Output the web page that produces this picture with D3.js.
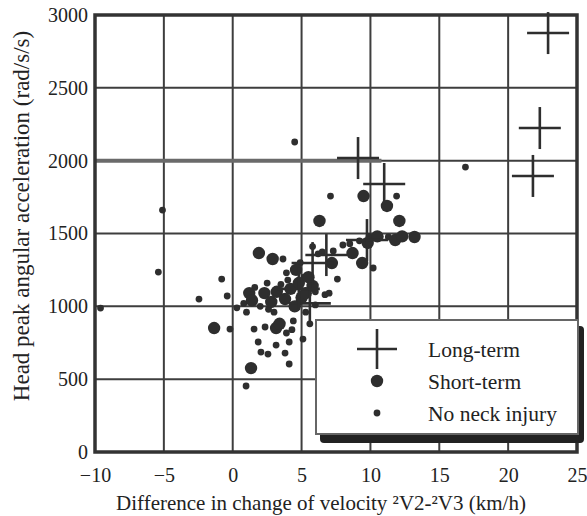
<!DOCTYPE html>
<html>
<head>
<meta charset="utf-8">
<script src="https://cdn.jsdelivr.net/npm/d3@7"></script>
<style>
  html, body { margin: 0; padding: 0; background: #fff; }
  svg { display: block; }
  text { font-family: "Liberation Serif", "Times New Roman", serif; fill: #222; }
</style>
</head>
<body>
<svg id="chart" width="587" height="516"></svg>
<script>
// Tick values
const xTicks = [-10, -5, 0, 5, 10, 15, 20, 25];
const yTicks = [0, 500, 1000, 1500, 2000, 2500, 3000];

// Long-term neck injury cases: [velocity difference, angular acceleration]
const longTerm = [
  [22.9, 2876], [22.3, 2224], [21.8, 1895], [11.0, 1840], [9.1, 2018],
  [9.75, 1455], [6.8, 1352], [5.8, 1297], [5.6, 1020], [4.8, 1120]
];

// Short-term neck injury cases
const shortTerm = [
  [6.3, 1586], [9.5, 1757], [11.2, 1689], [12.1, 1586], [13.2, 1476],
  [9.8, 1435], [11.8, 1455], [8.7, 1366], [9.4, 1297], [7.2, 1297],
  [1.9, 1366], [2.9, 1325], [-1.35, 851], [1.2, 1091], [2.3, 1091],
  [3.2, 1100], [2.8, 1030], [1.4, 1040], [4.2, 1120], [4.8, 1160],
  [5.5, 1200], [3.8, 1050], [4.5, 1000], [5.0, 1060], [3.15, 851],
  [1.33, 576], [4.6, 1250], [5.3, 1090], [10.5, 1480], [12.3, 1480],
  [3.4, 880], [5.8, 1140]
];

// Cases with no neck injury
const noInjury = [
  [4.5, 2128], [7.1, 1757], [-5.1, 1661], [16.9, 1956], [11.9, 1757],
  [8.0, 1421], [10.2, 1263], [10.7, 1476], [11.3, 1476], [9.2, 1450],
  [6.5, 1373], [7.3, 1380], [7.6, 1187], [3.65, 1325], [-5.4, 1235],
  [-0.8, 1187], [-2.45, 1050], [-9.6, 988], [-0.4, 1071], [-0.2, 844],
  [0.3, 990], [1.0, 960], [1.55, 844], [2.35, 858], [3.9, 817],
  [1.85, 755], [3.15, 734], [4.1, 755], [2.05, 686], [2.56, 672],
  [3.8, 679], [4.1, 604], [0.97, 453], [5.1, 775], [5.8, 1410],
  [6.2, 1360], [4.9, 1300], [5.2, 1200], [6.0, 1100], [6.7, 1080],
  [7.0, 1090], [4.0, 1180], [3.5, 1150], [2.0, 1000], [2.6, 980],
  [0.8, 1020], [4.4, 900], [5.3, 960], [4.8, 1030], [3.0, 960],
  [6.0, 1010], [1.6, 1130], [2.5, 1160], [5.6, 880], [4.3, 840],
  [3.9, 1230], [8.5, 1430], [9.9, 1480]
];

const legendItems = ["Long-term", "Short-term", "No neck injury"];

const svg = d3.select("#chart");
const plot = { left: 95, right: 577, top: 15, bottom: 452 };

const x = d3.scaleLinear().domain([-10, 25]).range([plot.left, plot.right]);
const y = d3.scaleLinear().domain([0, 3000]).range([plot.bottom, plot.top]);

const ink = "#2e2e2e";
const gridColor = "#3e3e3e";

// Grid lines
const grid = svg.append("g");
grid.selectAll("line.vx").data(xTicks.slice(1, -1)).join("line")
  .attr("x1", d => x(d)).attr("x2", d => x(d))
  .attr("y1", plot.top).attr("y2", plot.bottom)
  .attr("stroke", gridColor).attr("stroke-width", 2);
grid.selectAll("line.hy").data(yTicks.slice(1, -1)).join("line")
  .attr("x1", plot.left).attr("x2", plot.right)
  .attr("y1", d => y(d)).attr("y2", d => y(d))
  .attr("stroke", gridColor).attr("stroke-width", 2);
// heavier segment on the 2000 line
grid.append("line")
  .attr("x1", plot.left).attr("x2", x(10.8))
  .attr("y1", y(2000)).attr("y2", y(2000))
  .attr("stroke", "#6a6a6a").attr("stroke-width", 4);

// Frame
svg.append("rect")
  .attr("x", plot.left).attr("y", plot.top)
  .attr("width", plot.right - plot.left).attr("height", plot.bottom - plot.top)
  .attr("fill", "none").attr("stroke", "#333").attr("stroke-width", 3.5);

// Axes (labels only, the frame draws the lines)
const xAxis = d3.axisBottom(x).tickValues(xTicks).tickSize(0).tickPadding(16)
  .tickFormat(d3.format("d"));
const gx = svg.append("g").attr("transform", `translate(0,${plot.bottom})`).call(xAxis);
gx.select(".domain").remove();
gx.selectAll("text").attr("font-size", 20).attr("font-family", "Liberation Serif, serif").attr("fill", "#222");

const yAxis = d3.axisLeft(y).tickValues(yTicks).tickSize(0).tickPadding(7)
  .tickFormat(d3.format("d"));
const gy = svg.append("g").attr("transform", `translate(${plot.left},0)`).call(yAxis);
gy.select(".domain").remove();
gy.selectAll("text").attr("font-size", 20).attr("font-family", "Liberation Serif, serif").attr("fill", "#222");

// Axis titles
svg.append("text")
  .attr("x", 321).attr("y", 510)
  .attr("text-anchor", "middle").attr("font-size", 21)
  .text("Difference in change of velocity \u00B2V2-\u00B2V3 (km/h)");
svg.append("text")
  .attr("transform", "translate(29,216) rotate(-90)")
  .attr("text-anchor", "middle").attr("font-size", 23)
  .text("Head peak angular acceleration (rad/s/s)");

// Data marks
const marks = svg.append("g");
marks.selectAll("circle.none").data(noInjury).join("circle")
  .attr("cx", d => x(d[0])).attr("cy", d => y(d[1]))
  .attr("r", 3.4).attr("fill", ink);
marks.selectAll("circle.short").data(shortTerm).join("circle")
  .attr("cx", d => x(d[0])).attr("cy", d => y(d[1]))
  .attr("r", 6.2).attr("fill", ink);

const crossHalf = 21;
const crosses = marks.selectAll("g.cross").data(longTerm).join("g")
  .attr("transform", d => `translate(${x(d[0])},${y(d[1])})`);
crosses.append("line").attr("x1", -crossHalf).attr("x2", crossHalf)
  .attr("stroke", ink).attr("stroke-width", 2.6);
crosses.append("line").attr("y1", -crossHalf).attr("y2", crossHalf)
  .attr("stroke", ink).attr("stroke-width", 2.6);

// Legend with drop shadow
const lg = svg.append("g");
lg.append("rect").attr("x", 320).attr("y", 326).attr("width", 264).attr("height", 117)
  .attr("rx", 4).attr("fill", "#222");
lg.append("rect").attr("x", 316).attr("y", 320).attr("width", 262).attr("height", 114)
  .attr("fill", "#fff").attr("stroke", "#666").attr("stroke-width", 2);

const legendY = [349, 381, 413];
const lx = 377;
lg.append("line").attr("x1", lx - 20).attr("x2", lx + 20)
  .attr("y1", legendY[0]).attr("y2", legendY[0]).attr("stroke", ink).attr("stroke-width", 2.6);
lg.append("line").attr("x1", lx).attr("x2", lx)
  .attr("y1", legendY[0] - 20).attr("y2", legendY[0] + 20).attr("stroke", ink).attr("stroke-width", 2.6);
lg.append("circle").attr("cx", lx).attr("cy", legendY[1]).attr("r", 6.2).attr("fill", ink);
lg.append("circle").attr("cx", lx).attr("cy", legendY[2]).attr("r", 3.4).attr("fill", ink);

lg.selectAll("text.lab").data(legendItems).join("text")
  .attr("x", 428).attr("y", (d, i) => legendY[i] + 7.5)
  .attr("font-size", 21.5)
  .text(d => d);
</script>
</body>
</html>
